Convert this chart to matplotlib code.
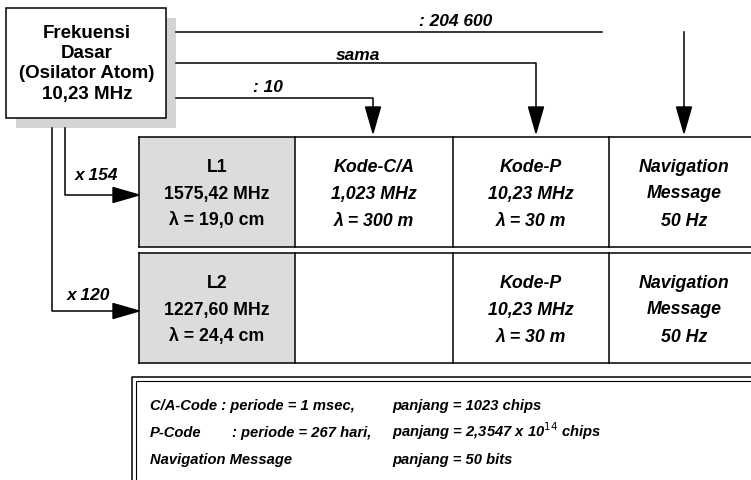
import matplotlib.pyplot as plt
from matplotlib.patches import Rectangle, Polygon

plt.rcParams['font.family'] = ['Liberation Sans', 'DejaVu Sans']

# Source box
source_lines = ['Frekuensi', 'Dasar', '(Osilator Atom)', '10,23 MHz']

# Division factors from the base frequency (top lines)
factor_labels = [': 204 600', 'sama', ': 10']

# Carrier multipliers
carrier_factors = ['x 154', 'x 120']

# Table rows: carrier + code cells
row1 = [['L1', '1575,42 MHz', '\u03bb = 19,0 cm'],
        ['Kode-C/A', '1,023 MHz', '\u03bb = 300 m'],
        ['Kode-P', '10,23 MHz', '\u03bb = 30 m'],
        ['Navigation', 'Message', '50 Hz']]
row2 = [['L2', '1227,60 MHz', '\u03bb = 24,4 cm'],
        [],
        ['Kode-P', '10,23 MHz', '\u03bb = 30 m'],
        ['Navigation', 'Message', '50 Hz']]

# Notes box
note_left = ['C/A-Code : periode = 1 msec,', 'P-Code', 'Navigation Message']
note_mid = ['', ': periode = 267 hari,', '']
note_right = ['panjang = 1023 chips', 'panjang = 2,3547 x 10$^{14}$ chips', 'panjang = 50 bits']

fig = plt.figure(figsize=(7.51, 4.80), dpi=100)
ax = fig.add_axes([0, 0, 1, 1])
ax.set_xlim(0, 751)
ax.set_ylim(480, 0)
ax.axis('off')

lw = 1.1


def head(x, y, direction):
    # filled triangle arrowhead with the tip at (x, y)
    if direction == 'down':
        pts = [(x - 7.5, y - 26), (x + 7.5, y - 26), (x, y)]
    else:
        pts = [(x - 26, y - 7.5), (x - 26, y + 7.5), (x, y)]
    ax.add_patch(Polygon(pts, closed=True, color='black', zorder=5))


# Source box with shadow
ax.add_patch(Rectangle((16, 18), 160, 110, facecolor='#d4d4d4', edgecolor='none', zorder=1))
ax.add_patch(Rectangle((6, 8), 160, 110, facecolor='white', edgecolor='black', lw=lw, zorder=2))
for i, s in enumerate(source_lines):
    ax.text(87, 33 + i * 20.5, s, ha='center', va='center', fontsize=13.5, fontweight='bold', zorder=3)

# Top lines
ax.plot([176, 602], [32, 32], color='black', lw=lw)
ax.plot([176, 536, 536], [63, 63, 110], color='black', lw=lw)
ax.plot([176, 373, 373], [98, 98, 110], color='black', lw=lw)
ax.plot([684, 684], [32, 110], color='black', lw=lw)
for xa in [373, 536, 684]:
    head(xa, 133, 'down')
lab = dict(ha='center', va='center', fontsize=12.5, fontweight='bold', style='italic')
ax.text(456, 22, factor_labels[0], **lab)
ax.text(358, 55, factor_labels[1], **lab)
ax.text(268, 88, factor_labels[2], **lab)

# Left connectors
ax.plot([65, 65, 115], [128, 195, 195], color='black', lw=lw)
head(139, 195, 'right')
ax.plot([52, 52, 115], [128, 311, 311], color='black', lw=lw)
head(139, 311, 'right')
ax.text(96, 175, carrier_factors[0], **lab)
ax.text(88, 295, carrier_factors[1], **lab)

# Table
col_edges = [139, 295, 453, 609, 751]
row_tops = [137, 253]
row_h = 110
for r, (top, cells) in enumerate(zip(row_tops, [row1, row2])):
    ax.add_patch(Rectangle((col_edges[0], top), col_edges[1] - col_edges[0], row_h,
                           facecolor='#dcdcdc', edgecolor='none', zorder=1))
    ax.plot([col_edges[0], 751], [top, top], color='black', lw=lw)
    ax.plot([col_edges[0], 751], [top + row_h, top + row_h], color='black', lw=lw)
    for xe in col_edges[:-1]:
        ax.plot([xe, xe], [top, top + row_h], color='black', lw=lw)
    for c, lines in enumerate(cells):
        xc = (col_edges[c] + col_edges[c + 1]) / 2
        if c == 3:
            xc = 684
        for i, s in enumerate(lines):
            ax.text(xc, top + 30 + i * 27, s, ha='center', va='center', fontsize=12.8,
                    fontweight='bold', style='normal' if c == 0 else 'italic', zorder=3)

# Notes box (double border, open on right/bottom)
ax.plot([751, 132, 132], [377, 377, 480], color='black', lw=lw)
ax.plot([751, 136, 136], [381, 381, 480], color='black', lw=0.8)
note = dict(ha='left', va='baseline', fontsize=10.6, fontweight='bold', style='italic')
for i in range(3):
    y = 410 + i * 27
    ax.text(150, y, note_left[i], **note)
    ax.text(232, y, note_mid[i], **note)
    ax.text(392, y, note_right[i], **note)

fig.savefig('out.png', dpi=100)
